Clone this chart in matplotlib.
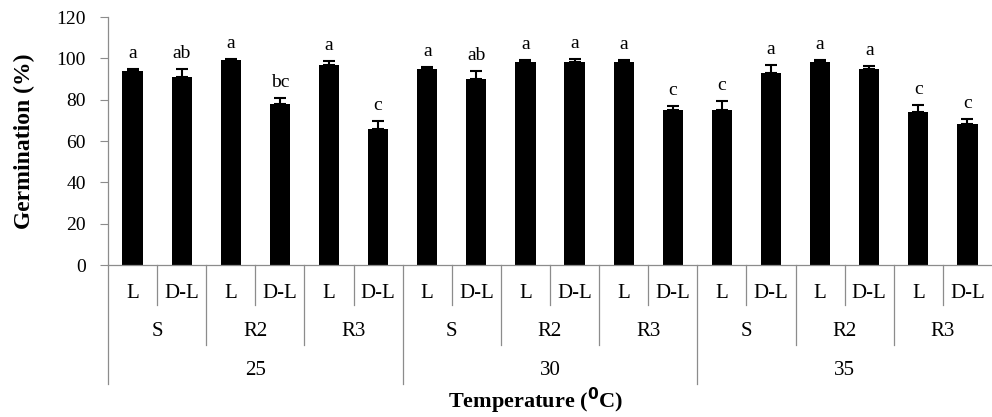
import matplotlib
matplotlib.use("Agg")
import matplotlib.pyplot as plt
import numpy as np

plt.rcParams['font.family'] = ['Liberation Serif', 'DejaVu Serif']

# Datos
light = ['L', 'D-L'] * 9
races = ['S', 'R2', 'R3'] * 3
temps = ['25', '30', '35']
germ = [94, 91, 99, 78, 97, 66, 95, 90, 98, 98, 98, 75, 75, 93, 98, 95, 74, 68]
err = [1, 4, 0.7, 3, 1.5, 3.5, 1, 4, 1, 1.5, 1, 2, 4.5, 4, 1, 1.5, 3.5, 2.5]
letters = ['a', 'ab', 'a', 'bc', 'a', 'c', 'a', 'ab', 'a', 'a', 'a', 'c',
           'c', 'a', 'a', 'a', 'c', 'c']

gray = '#8c8c8c'

fig = plt.figure(figsize=(9.92, 4.17), dpi=100)
ax = fig.add_axes([108 / 992, 1 - 265 / 417, 1 - 108 / 992, 248 / 417])

x = np.arange(len(germ))
ax.bar(x, germ, width=0.41, color='black')
ax.errorbar(x, germ, yerr=[np.zeros(len(err)), err], fmt='none', ecolor='black',
            elinewidth=1.5, capsize=4, capthick=1.5)

# letras de significancia
for xi, g, e, t in zip(x, germ, err, letters):
    ax.annotate(t, (xi, g + e), xytext=(0, 5), textcoords='offset points',
                ha='center', va='bottom', fontsize=14)

ax.set_xlim(-0.5, 17.5)
ax.set_ylim(0, 120)
ax.set_yticks(range(0, 121, 20))
ax.tick_params(axis='y', direction='out', length=6, width=0.8, color=gray,
               labelsize=14, pad=10)
ax.set_xticks([])

for s in ['top', 'right']:
    ax.spines[s].set_visible(False)
ax.spines['left'].set_color(gray)
ax.spines['bottom'].set_color(gray)
ax.spines['left'].set_linewidth(0.9)
ax.spines['bottom'].set_linewidth(0.9)

# ejes jerarquicos
tr = ax.get_xaxis_transform()
for i in range(17):
    b = i + 0.5
    if (i + 1) % 6 == 0:
        y0 = -0.48
    elif (i + 1) % 2 == 0:
        y0 = -0.323
    else:
        y0 = -0.161
    ax.plot([b, b], [0, y0], color=gray, lw=0.9, transform=tr, clip_on=False)
ax.plot([-0.5, -0.5], [0, -0.48], color=gray, lw=0.9, transform=tr, clip_on=False)

for i, l in enumerate(light):
    ax.text(i, -0.113, l, transform=tr, ha='center', va='center', fontsize=15)
for j, r in enumerate(races):
    ax.text(2 * j + 0.5, -0.27, r, transform=tr, ha='center', va='center', fontsize=15)
for k, t in enumerate(temps):
    ax.text(6 * k + 2.5, -0.427, t, transform=tr, ha='center', va='center', fontsize=15)

ax.text(8.2, -0.578, 'Temperature ($\\mathbf{^{0}}$C)', transform=tr, ha='center',
        va='baseline', fontsize=16, fontweight='bold')
fig.text(24 / 992, 1 - 141 / 417, 'Germination (%)', rotation=90, ha='center',
         va='center', fontsize=17, fontweight='bold')

fig.savefig('out.png', dpi=100)
